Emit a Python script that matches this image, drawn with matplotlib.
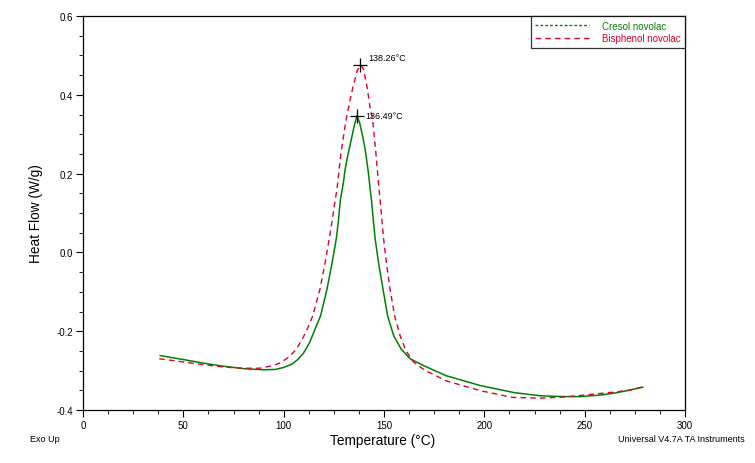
import matplotlib
matplotlib.use("Agg")
import matplotlib.pyplot as plt
from matplotlib.lines import Line2D
from matplotlib.ticker import MultipleLocator

plt.rcParams['font.family'] = ['Liberation Sans', 'DejaVu Sans']

# Cresol novolac (solid green)
cresol_T = [38.5, 50, 60, 70, 80, 90, 96, 100, 104, 107, 110, 113, 116, 118.4, 121.6, 124,
            126.2, 127.3, 128.2, 129.2, 129.8, 130.5, 131.7, 133.2, 134.2, 135.2, 136.49,
            137.8, 139.5, 140.6, 142.1, 143.1, 143.8, 144.7, 145.6, 147.4, 149.5, 151.8,
            154.8, 158.5, 163, 170, 181, 198, 215, 228, 240, 248, 258, 265, 272, 279]
cresol_v = [-0.262, -0.272, -0.281, -0.289, -0.295, -0.298, -0.297, -0.292, -0.284, -0.272,
            -0.255, -0.228, -0.19, -0.161, -0.093, -0.03, 0.034, 0.08, 0.131, 0.161, 0.178,
            0.207, 0.24, 0.275, 0.298, 0.322, 0.347, 0.33, 0.292, 0.262, 0.207, 0.161, 0.131,
            0.08, 0.034, -0.03, -0.093, -0.161, -0.211, -0.245, -0.27, -0.288, -0.313, -0.338,
            -0.356, -0.364, -0.366, -0.366, -0.362, -0.357, -0.35, -0.342]

# Bisphenol novolac (dashed red)
bisphenol_T = [38, 50, 60, 70, 80, 88, 95, 98, 102, 106, 109.5, 112, 114.5, 118.1, 120.5,
               122.7, 124.3, 125.6, 126.6, 128.5, 131, 133.2, 134.5, 136.7, 138.26, 139.8,
               141.6, 143, 144.4, 146, 147.5, 148.1, 149.8, 151.3, 153, 155.3, 158, 161,
               164.5, 170, 181, 198, 214, 228, 240, 250, 264, 272, 278.5]
bisphenol_v = [-0.27, -0.278, -0.285, -0.291, -0.294, -0.294, -0.287, -0.281, -0.268, -0.248,
               -0.218, -0.192, -0.161, -0.093, -0.03, 0.034, 0.085, 0.131, 0.161, 0.25, 0.334,
               0.39, 0.419, 0.462, 0.476, 0.465, 0.419, 0.37, 0.334, 0.25, 0.161, 0.131, 0.034,
               -0.03, -0.093, -0.161, -0.211, -0.25, -0.277, -0.298, -0.326, -0.351, -0.368,
               -0.37, -0.367, -0.362, -0.355, -0.35, -0.342]

peak_T = [136.49, 138.26]
peak_v = [0.347, 0.476]
peak_labels = ["136.49°C", "138.26°C"]
peak_dy = [0, 5]

series_names = ["Cresol novolac", "Bisphenol novolac"]
green = "#008000"
red = "#e0002a"

fig = plt.figure(figsize=(7.55, 4.64), dpi=100)
ax = fig.add_axes([83/755, 1-411/464, (685-83)/755, (411-17)/464])

ax.plot(cresol_T, cresol_v, color=green, lw=1.1, solid_joinstyle='round')
ax.plot(bisphenol_T, bisphenol_v, color=red, lw=1.0, dashes=(4, 3))

for t, v, lab, dy in zip(peak_T, peak_v, peak_labels, peak_dy):
    ax.plot([t], [v], marker='+', color='black', ms=10, mew=0.9)
    ax.annotate(lab, (t, v), xytext=(6, dy), textcoords='offset points',
                fontsize=6.5, va='center', ha='left')

ax.set_xlim(0, 300)
ax.set_ylim(-0.4, 0.6)
ax.xaxis.set_major_locator(MultipleLocator(50))
ax.xaxis.set_minor_locator(MultipleLocator(12.5))
ax.yaxis.set_major_locator(MultipleLocator(0.2))
ax.yaxis.set_minor_locator(MultipleLocator(0.05))
ax.tick_params(which='major', direction='out', length=5, width=0.8, labelsize=7, pad=2)
ax.tick_params(which='minor', direction='out', length=3, width=0.6)
ax.set_xticks([0, 50, 100, 150, 200, 250, 300])
ax.set_xticklabels(["0", "50", "100", "150", "200", "250", "300"])
ax.set_yticks([-0.4, -0.2, 0.0, 0.2, 0.4, 0.6])
ax.set_yticklabels(["-0.4", "-0.2", "0.0", "0.2", "0.4", "0.6"])
for s in ax.spines.values():
    s.set_linewidth(0.9)

ax.set_ylabel("Heat Flow (W/g)", fontsize=9.8, labelpad=10)
fig.text(383/755, 1-441/464, "Temperature (°C)", fontsize=9.8, ha='center', va='center')
fig.text(30/755, 1-440/464, "Exo Up", fontsize=6.5, ha='left', va='center')
fig.text(745/755, 1-440/464, "Universal V4.7A TA Instruments", fontsize=6.5,
         ha='right', va='center')

handles = [Line2D([], [], color=green, lw=1.0, dashes=(2, 1.5)),
           Line2D([], [], color=red, lw=1.0, dashes=(4, 3))]
leg = ax.legend(handles, series_names, loc='upper right', fontsize=7,
                frameon=True, fancybox=False, edgecolor='black', borderaxespad=0,
                handlelength=5.5, handletextpad=1.3, borderpad=0.5, labelspacing=0.25)
leg.get_frame().set_linewidth(0.9)
for txt, c in zip(leg.get_texts(), [green, red]):
    txt.set_color(c)

fig.savefig("out.png", dpi=100)
